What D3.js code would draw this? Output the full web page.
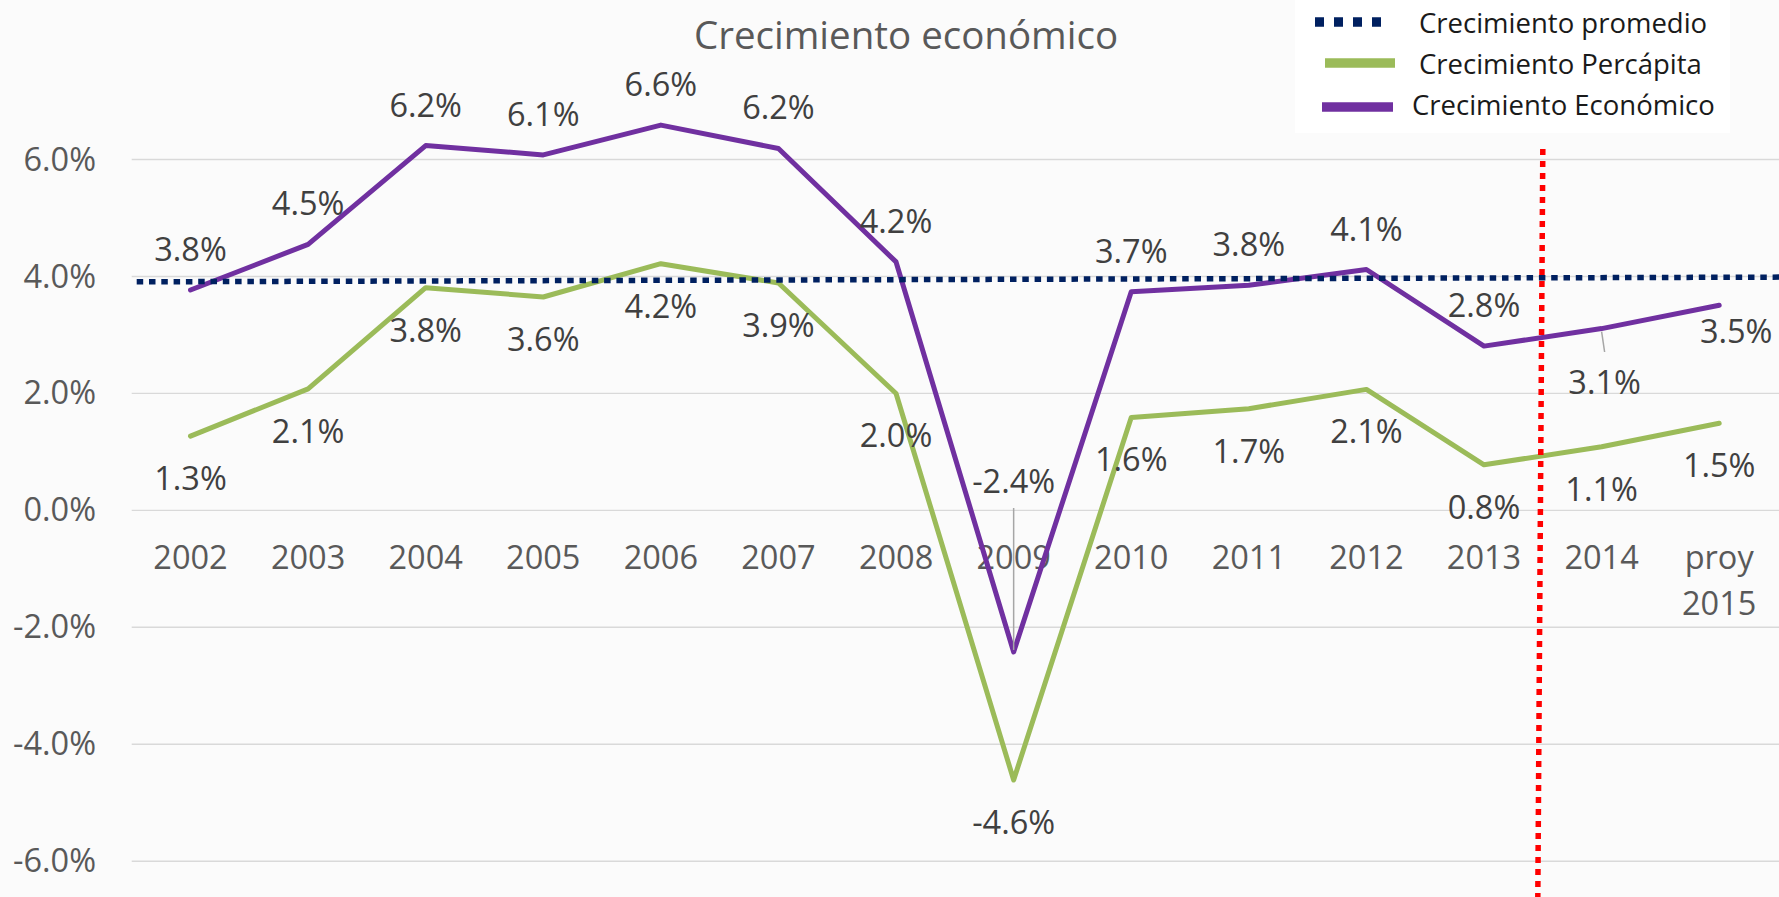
<!DOCTYPE html>
<html>
<head>
<meta charset="utf-8">
<script src="https://cdn.jsdelivr.net/npm/d3@7"></script>
<style>
  html, body { margin: 0; padding: 0; background: #fbfbfb; }
  svg { display: block; font-family: "Open Sans", sans-serif; }
</style>
</head>
<body>
<div id="chart"></div>
<script>
// chart data
const years = ["2002", "2003", "2004", "2005", "2006", "2007", "2008", "2009", "2010", "2011", "2012", "2013", "2014", "proy 2015"];
const economico = [3.76, 4.54, 6.23, 6.07, 6.58, 6.18, 4.24, -2.43, 3.73, 3.84, 4.11, 2.8, 3.1, 3.5];
const percapita = [1.26, 2.07, 3.8, 3.64, 4.21, 3.88, 1.99, -4.62, 1.58, 1.73, 2.06, 0.77, 1.08, 1.48];
const promedio = [3.9, 3.98]; // left edge, right edge of plot
const yTicks = [-6, -4, -2, 0, 2, 4, 6];
const legendLabels = ["Crecimiento promedio", "Crecimiento Percápita", "Crecimiento Económico"];
const titleText = "Crecimiento económico";
const splitYear = "2014"; // red dotted marker before this category

const width = 1779;
const height = 897;
const left = 131.7;

const colPurple = "#7030a0";
const colGreen = "#9bbb59";
const colNavy = "#002060";

const svg = d3.select("#chart").append("svg")
  .attr("width", width)
  .attr("height", height);

const x = d3.scaleBand().domain(years).range([left, 1778]).padding(0);
const cx = (d) => x(d) + x.bandwidth() / 2;
const y = d3.scaleLinear().domain([-6, 6]).range([860.7, 159]);

// gridlines
const grid = svg.append("g")
  .attr("transform", `translate(${left},0)`)
  .call(d3.axisLeft(y).tickValues(yTicks).tickSize(-(width - left)).tickFormat(""));
grid.select(".domain").remove();
grid.selectAll("line").attr("stroke", "#d9d9d9").attr("stroke-width", 1.4);

// y tick labels
const yAxis = svg.append("g")
  .attr("transform", "translate(96,0)")
  .call(d3.axisLeft(y).tickValues(yTicks).tickSize(0).tickPadding(0)
    .tickFormat((d) => d.toFixed(1) + "%"));
yAxis.select(".domain").remove();
yAxis.selectAll("text")
  .attr("font-family", "Open Sans")
  .attr("font-size", 32.5)
  .attr("fill", "#595959")
  .attr("dy", "0.34em");

// x labels
const xAxis = svg.append("g")
  .attr("transform", `translate(0,${y(0)})`)
  .call(d3.axisBottom(x).tickSize(0).tickPadding(36));
xAxis.select(".domain").remove();
xAxis.selectAll("text")
  .attr("font-family", "Open Sans")
  .attr("font-size", 32.5)
  .attr("fill", "#595959")
  .each(function (d) {
    const parts = d.split(" ");
    if (parts.length > 1) {
      const t = d3.select(this).text("");
      parts.forEach((p, i) => {
        t.append("tspan").attr("x", 0).attr("dy", i === 0 ? "0.71em" : "1.42em").text(p);
      });
      t.attr("dy", null);
    }
  });

// title
svg.append("text")
  .attr("x", 906)
  .attr("y", 49)
  .attr("text-anchor", "middle")
  .attr("font-size", 38.5)
  .attr("fill", "#595959")
  .text(titleText);

// series lines
const line = d3.line().x((d, i) => cx(years[i])).y((d) => y(d));

svg.append("path")
  .datum(percapita)
  .attr("d", line)
  .attr("fill", "none")
  .attr("stroke", colGreen)
  .attr("stroke-width", 5)
  .attr("stroke-linejoin", "round")
  .attr("stroke-linecap", "round");

svg.append("path")
  .datum(economico)
  .attr("d", line)
  .attr("fill", "none")
  .attr("stroke", colPurple)
  .attr("stroke-width", 5)
  .attr("stroke-linejoin", "round")
  .attr("stroke-linecap", "round");

// average line
svg.append("line")
  .attr("x1", left + 5)
  .attr("x2", width)
  .attr("y1", y(promedio[0]))
  .attr("y2", y(promedio[1]))
  .attr("stroke", colNavy)
  .attr("stroke-width", 5.5)
  .attr("stroke-dasharray", "6.5,5.8");

// leader lines for moved labels
const leaders = svg.append("g").attr("stroke", "#a6a6a6").attr("stroke-width", 1.5);
leaders.append("line")
  .attr("x1", cx("2009")).attr("x2", cx("2009"))
  .attr("y1", 508).attr("y2", y(economico[7]) - 2);
leaders.append("line")
  .attr("x1", cx("2014") + 3).attr("x2", cx("2014"))
  .attr("y1", 352).attr("y2", y(economico[12]) + 3);

// data labels
const fmt = (v) => v.toFixed(1) + "%";
// label offsets relative to the point: [dx, dy to baseline]
const purpleOffset = {
  "2009": [0, 493.3 - y(economico[7])],
  "2014": [3, 65],
  "proy 2015": [17, 38]
};

const labels = svg.append("g")
  .attr("font-size", 32.5)
  .attr("fill", "#404040")
  .attr("text-anchor", "middle");

labels.selectAll("text.pc")
  .data(percapita)
  .join("text")
  .attr("class", "pc")
  .attr("x", (d, i) => cx(years[i]))
  .attr("y", (d) => y(d) + 54)
  .text(fmt);

labels.selectAll("text.ec")
  .data(economico)
  .join("text")
  .attr("class", "ec")
  .attr("x", (d, i) => cx(years[i]) + (purpleOffset[years[i]] ? purpleOffset[years[i]][0] : 0))
  .attr("y", (d, i) => y(d) + (purpleOffset[years[i]] ? purpleOffset[years[i]][1] : -29))
  .text(fmt);

// red dotted split line
const xs = x(splitYear);
svg.append("line")
  .attr("x1", xs)
  .attr("x2", xs - 5)
  .attr("y1", 149)
  .attr("y2", height)
  .attr("stroke", "#ff0000")
  .attr("stroke-width", 5.5)
  .attr("stroke-dasharray", "6,6");

// legend
const legend = svg.append("g");
legend.append("rect")
  .attr("x", 1295).attr("y", 0)
  .attr("width", 435).attr("height", 133)
  .attr("fill", "#ffffff");

const legendItems = [
  { color: colNavy, dash: "9,10", x1: 1315, x2: 1388, y: 22, tx: 1419, ty: 33 },
  { color: colGreen, dash: null, x1: 1325, x2: 1395, y: 63, tx: 1419, ty: 74 },
  { color: colPurple, dash: null, x1: 1322, x2: 1393, y: 107, tx: 1412, ty: 115 }
];

legendItems.forEach((it, i) => {
  legend.append("line")
    .attr("x1", it.x1).attr("x2", it.x2)
    .attr("y1", it.y).attr("y2", it.y)
    .attr("stroke", it.color)
    .attr("stroke-width", 9.5)
    .attr("stroke-dasharray", it.dash);
  legend.append("text")
    .attr("x", it.tx)
    .attr("y", it.ty)
    .attr("font-size", 27.5)
    .attr("fill", "#1a1a1a")
    .text(legendLabels[i]);
});
</script>
</body>
</html>
